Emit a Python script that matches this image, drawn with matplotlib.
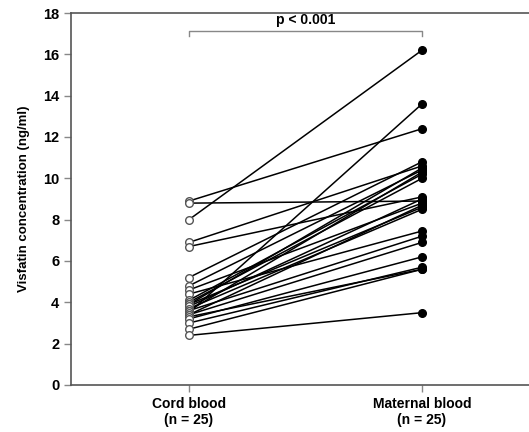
import matplotlib.pyplot as plt

plt.rcParams['font.family'] = ['Liberation Sans', 'DejaVu Sans']

# paired visfatin values (ng/ml)
cord = [8.9, 8.8, 8.0, 6.9, 6.7, 5.2, 4.8, 4.6, 4.4, 4.1, 4.0, 3.9, 3.9,
        3.8, 3.7, 3.6, 3.6, 3.5, 3.4, 3.4, 3.3, 3.2, 3.0, 2.7, 2.4]
maternal = [12.4, 8.9, 16.2, 10.6, 9.1, 10.8, 10.4, 8.8, 7.45, 10.2, 10.0, 8.6, 10.5,
            9.0, 8.5, 7.2, 10.3, 13.6, 8.7, 6.9, 5.6, 6.2, 5.7, 5.6, 3.5]
groups = ['Cord blood\n(n = 25)', 'Maternal blood\n(n = 25)']
p_text = 'p < 0.001'

W, H = 529, 432
fig = plt.figure(figsize=(W / 100, H / 100), dpi=100)
ax = fig.add_axes([71 / W, (H - 385) / H, (W - 71) / W, (385 - 13) / H])

for a, b in zip(cord, maternal):
    ax.plot([0, 1], [a, b], color='black', lw=1.1, zorder=2)
ax.plot([0] * len(cord), cord, 'o', ms=5.5, mfc='white', mec='#555555', mew=1.0, zorder=3)
ax.plot([1] * len(maternal), maternal, 'o', ms=5.5, mfc='black', mec='black', zorder=3)

# significance bracket
ax.plot([0, 0, 1, 1], [16.9, 17.15, 17.15, 16.9], color='#888888', lw=1.0, clip_on=False)
ax.text(0.5, 17.3, p_text, ha='center', va='bottom', fontsize=10, fontweight='bold')

ax.set_xlim(-0.506, 1.459)
ax.set_ylim(0, 18)
ax.set_yticks(range(0, 19, 2))
ax.set_xticks([0, 1])
ax.set_xticklabels(groups, fontweight='bold', fontsize=10)
for t in ax.get_yticklabels():
    t.set_fontweight('bold')
    t.set_fontsize(10.5)
ax.set_ylabel('Visfatin concentration (ng/ml)', fontweight='bold', fontsize=9.5, labelpad=9)

for s in ['left', 'bottom', 'top']:
    ax.spines[s].set_color('#555555')
    ax.spines[s].set_linewidth(1.2)
ax.spines['right'].set_visible(False)
ax.tick_params(axis='both', colors='#888888', length=5, width=1, labelcolor='black')

fig.savefig('out.png', dpi=100)
